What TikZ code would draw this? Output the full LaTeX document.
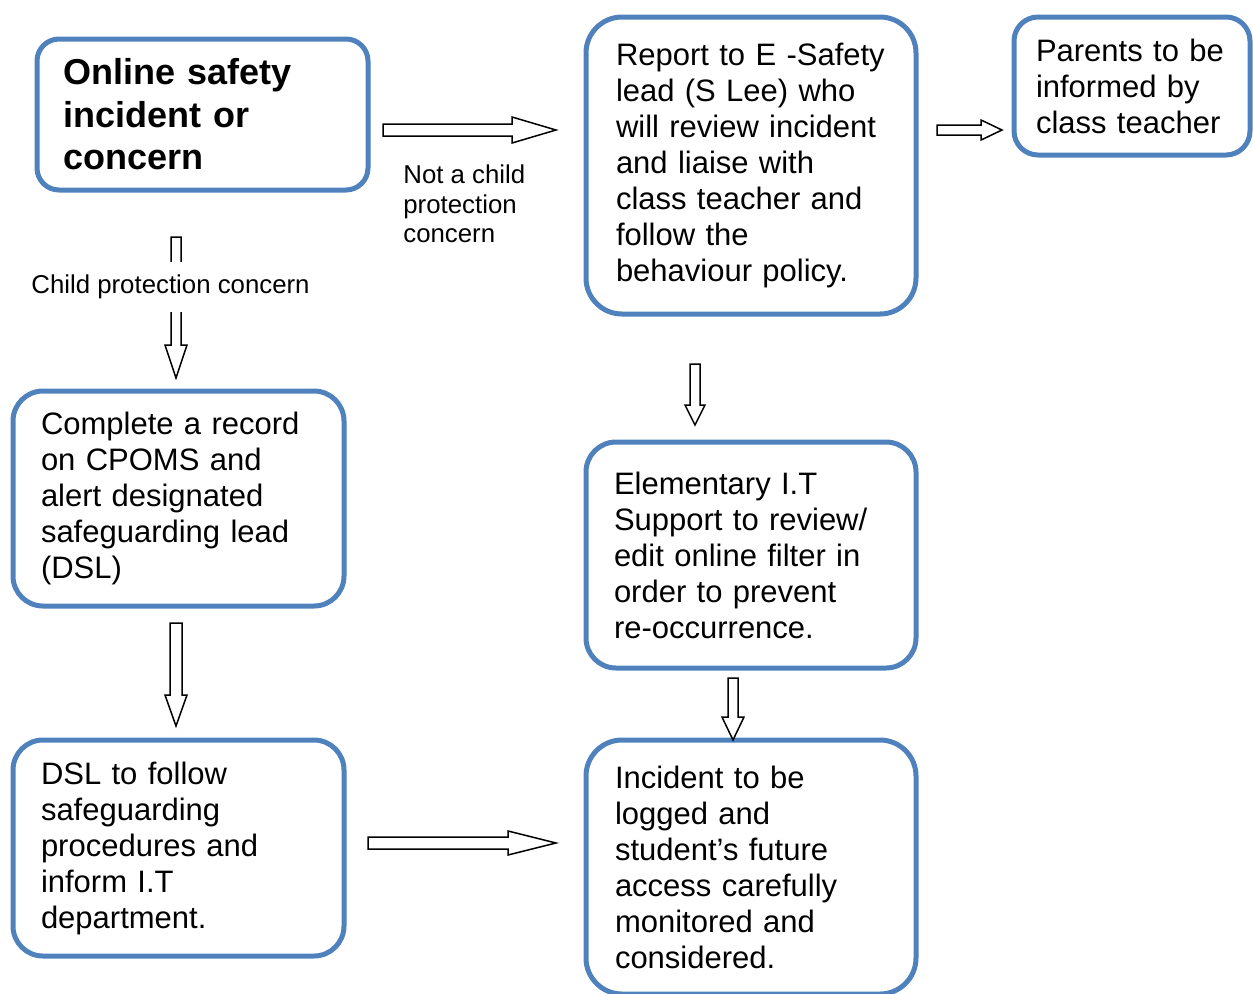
\documentclass[tikz,border=0pt]{standalone}
\usepackage{fontspec}
\setmainfont{Liberation Sans}
\usetikzlibrary{calc}
\definecolor{boxblue}{RGB}{79,129,189}

\newcommand{\bodyfont}{\fontsize{15.5pt}{18pt}\selectfont}
\newcommand{\titlefont}{\fontsize{18pt}{21.25pt}\selectfont\bfseries}
\newcommand{\lblfont}{\fontsize{12.9pt}{14.75pt}\selectfont}

% hollow block arrow: start, tip, shaft half width, head half width, head length
\newcommand{\hollowarrow}[5]{%
  \coordinate (hd) at ($(#2)!#5!(#1)$);
  \draw[hollow] ($(#1)!#3!90:(#2)$) -- ($(hd)!#3!90:(#2)$) -- ($(hd)!#4!90:(#2)$) -- (#2)
    -- ($(hd)!#4!-90:(#2)$) -- ($(hd)!#3!-90:(#2)$) -- ($(#1)!#3!-90:(#2)$) -- cycle;}

\begin{document}
\begin{tikzpicture}[x=0.5pt,y=-0.5pt,
    stepbox/.style={draw=boxblue, line width=2.5pt, rounded corners=15pt, align=left, font=\bodyfont, inner ysep=0pt},
    hollow/.style={draw=black, line width=0.75pt, fill=white, line join=miter},
    lbl/.style={font=\lblfont, align=left, inner sep=0pt}]
  \useasboundingbox (0,0) rectangle (1253,993);

  \node[stepbox, rounded corners=11pt, font=\titlefont, inner xsep=13pt, text width=139.5pt, minimum height=75.5pt] (online) at (202.5,114.5) {Online safety\\incident or\\concern};
  \node[stepbox, rounded corners=18pt, inner xsep=15pt, text width=135pt, minimum height=148.5pt] (report) at (751,165.5) {Report to E -Safety\\lead (S Lee) who\\will review incident\\and liaise with\\class teacher and\\follow the\\behaviour policy.};
  \node[stepbox, rounded corners=12pt, inner xsep=11pt, text width=96pt, minimum height=69pt] (parents) at (1132,86) {Parents to be\\informed by\\class teacher};
  \node[stepbox, inner xsep=14pt, text width=137.5pt, minimum height=107.5pt] (record) at (178.5,498.5) {Complete a record\\on CPOMS and\\alert designated\\safeguarding lead\\(DSL)};
  \node[stepbox, inner xsep=14pt, text width=137pt, minimum height=113pt] (filter) at (751,555) {Elementary I.T\\Support to review/\\edit online filter in\\order to prevent\\re-occurrence.};
  \node[stepbox, inner xsep=14pt, text width=137.5pt, minimum height=108pt] (dsl) at (178.5,848) {DSL to follow\\safeguarding\\procedures and\\inform I.T\\department.};
  \node[stepbox, rounded corners=18pt, inner xsep=14.5pt, text width=136pt, minimum height=127pt] (logged) at (751,867) {Incident to be\\logged and\\student’s future\\access carefully\\monitored and\\considered.};

  \coordinate (cps) at (176,237);
  \coordinate (cpe) at (176,378);
  \coordinate (ncs) at (383,130);
  \coordinate (nce) at (556,130);
  \coordinate (pas) at (937,130);
  \coordinate (pae) at (1002,130);
  \coordinate (rds) at (176,623);
  \coordinate (rde) at (176,726);
  \coordinate (res) at (695,364);
  \coordinate (ree) at (695,425);
  \coordinate (fls) at (733,678);
  \coordinate (fle) at (733,740);
  \coordinate (dls) at (368,843);
  \coordinate (dle) at (556,843);

  \hollowarrow{cps}{cpe}{2.5pt}{5.5pt}{16.5pt}
  \hollowarrow{ncs}{nce}{3pt}{6.5pt}{22pt}
  \hollowarrow{pas}{pae}{2.5pt}{5pt}{10.5pt}
  \hollowarrow{rds}{rde}{3pt}{5.5pt}{15.5pt}
  \hollowarrow{res}{ree}{2.5pt}{5pt}{10pt}
  \hollowarrow{fls}{fle}{2.5pt}{5.5pt}{11.5pt}
  \hollowarrow{dls}{dle}{3pt}{6pt}{24pt}

  \node[lbl, fill=white, inner ysep=6.5pt, inner xsep=2pt] (cpc) at (170.5,287) {Child protection concern};
  \node[lbl, anchor=west] (ncp) at (403,204) {Not a child\\protection\\concern};
\end{tikzpicture}
\end{document}
